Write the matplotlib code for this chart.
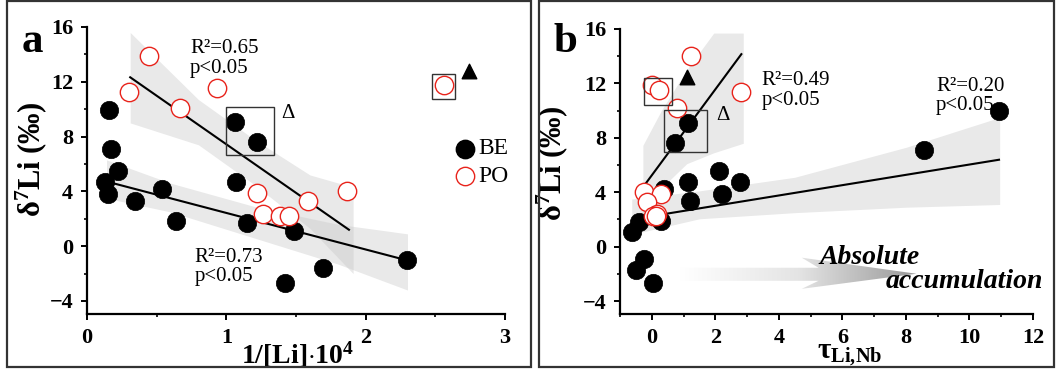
import numpy as np
import matplotlib
matplotlib.use("Agg")
import matplotlib.pyplot as plt
from matplotlib.patches import Rectangle, Polygon
from matplotlib.colors import LinearSegmentedColormap
from matplotlib.ticker import MultipleLocator

plt.rcParams['font.family'] = ['Liberation Serif', 'DejaVu Serif']
plt.rcParams['mathtext.fontset'] = 'custom'
plt.rcParams['mathtext.rm'] = 'Liberation Serif'
plt.rcParams['mathtext.it'] = 'Liberation Serif:italic'
plt.rcParams['mathtext.bf'] = 'Liberation Serif:bold'

# ---------------- Panel a data: 1/[Li]*10^4 vs d7Li ----------------
a_be_x = [0.155, 0.174, 0.222, 0.131, 0.148, 0.344, 0.535, 0.637, 1.064, 1.217,
          1.067, 1.150, 1.489, 1.420, 1.694, 2.296]
a_be_y = [9.92, 7.08, 5.50, 4.69, 3.79, 3.30, 4.18, 1.81, 9.09, 7.57,
          4.69, 1.66, 1.10, -2.71, -1.61, -1.03]
a_po_x = [0.446, 0.301, 0.931, 0.671, 1.217, 1.260, 1.384, 1.451, 1.587, 1.866, 2.561]
a_po_y = [13.90, 11.26, 11.53, 10.11, 3.88, 2.37, 2.22, 2.22, 3.27, 4.01, 11.80]
a_tri = (2.745, 12.8)

# fitted lines (end points) and confidence bands
a_po_fit_x = [0.31, 1.88]
a_po_fit_y = [12.33, 1.20]
a_po_band_x = [0.31, 0.8, 1.2, 1.6, 1.91]
a_po_band_hi = [15.6, 10.7, 7.8, 5.2, 4.3]
a_po_band_lo = [9.0, 7.4, 4.5, 1.3, -2.0]

a_be_fit_x = [0.107, 2.296]
a_be_fit_y = [4.81, -1.03]
a_be_band_x = [0.14, 0.6, 1.2, 1.8, 2.30]
a_be_band_hi = [6.3, 4.6, 2.9, 1.6, 0.9]
a_be_band_lo = [3.5, 2.5, 0.6, -1.3, -3.2]

# ---------------- Panel b data: tau_Li,Nb vs d7Li ----------------
b_be_x = [10.93, 8.57, 1.15, 0.74, 2.13, 2.78, 1.15, 2.21, 1.21, 0.38,
          0.28, -0.39, -0.62, -0.25, -0.51, 0.05]
b_be_y = [9.96, 7.13, 9.12, 7.64, 5.55, 4.73, 4.73, 3.87, 3.33, 4.24,
          1.85, 1.78, 1.11, -0.94, -1.68, -2.66]
b_po_x = [1.23, 2.81, 0.01, 0.24, 0.80, -0.24, 0.28, -0.14, 0.18, 0.05, 0.12]
b_po_y = [13.98, 11.37, 11.88, 11.51, 10.16, 4.01, 3.88, 3.27, 2.37, 2.22, 2.22]
b_tri = (1.10, 12.5)

b_po_fit_x = [-0.28, 2.82]
b_po_fit_y = [4.36, 14.15]
b_po_band_x = [-0.28, 0.3, 1.1, 1.95, 2.88]
b_po_band_hi = [7.45, 10.0, 13.0, 15.7, 15.7]
b_po_band_lo = [1.1, 4.3, 6.1, 6.9, 7.6]

b_be_fit_x = [-0.28, 10.93]
b_be_fit_y = [2.14, 6.39]
b_be_band_x = [-0.63, 1.5, 4.5, 8.0, 10.95]
b_be_band_hi = [3.5, 4.1, 5.1, 7.3, 9.5]
b_be_band_lo = [0.9, 2.05, 2.5, 2.9, 3.1]

# arrow outline (data coords of panel b)
arrow_x = [0.88, 5.25, 4.72, 8.33, 4.72, 5.25, 0.88]
arrow_y = [-1.55, -1.55, -0.81, -1.99, -3.1, -2.51, -2.51]

fig = plt.figure(figsize=(10.57, 3.76), dpi=100)
W, H = 1057, 376

# panel frames
for x0, x1 in [(7, 531), (539, 1054)]:
    fig.patches.append(Rectangle((x0 / W, 1 - 367 / H), (x1 - x0) / W, 366 / H,
                                 transform=fig.transFigure, fill=False,
                                 edgecolor='#333333', linewidth=1.6))

ax_a = fig.add_axes([87 / W, 1 - 314 / H, (505 - 87) / W, (314 - 27) / H])
ax_b = fig.add_axes([620 / W, 1 - 314 / H, (1033 - 620) / W, (314 - 29) / H])

band_kw = dict(color='#c8c8c8', alpha=0.4, linewidth=0, zorder=1)
be_kw = dict(s=175, c='black', edgecolors='black', linewidths=0.5, zorder=3)
po_kw = dict(s=175, c='white', edgecolors='#e8231b', linewidths=1.0, zorder=4)


def style_axis(ax, xlim, xmaj, xmin):
    ax.set_xlim(*xlim)
    ax.set_ylim(-4.95, 16)
    for s in ['top', 'right']:
        ax.spines[s].set_visible(False)
    for s in ['left', 'bottom']:
        ax.spines[s].set_linewidth(1.6)
    ax.xaxis.set_major_locator(MultipleLocator(xmaj))
    ax.xaxis.set_minor_locator(MultipleLocator(xmin))
    ax.yaxis.set_major_locator(MultipleLocator(4))
    ax.yaxis.set_minor_locator(MultipleLocator(2))
    ax.tick_params(which='major', direction='out', length=4, width=1.4,
                   labelsize=16, pad=6)
    ax.tick_params(which='minor', direction='out', length=2.5, width=1.2)
    for lab in ax.get_xticklabels() + ax.get_yticklabels():
        lab.set_fontweight('bold')
    ax.patch.set_alpha(0)


# ---- panel a ----
ax = ax_a
ax.fill_between(a_po_band_x, a_po_band_lo, a_po_band_hi, **band_kw)
ax.fill_between(a_be_band_x, a_be_band_lo, a_be_band_hi, **band_kw)
ax.plot(a_po_fit_x, a_po_fit_y, color='black', lw=1.5, zorder=2)
ax.plot(a_be_fit_x, a_be_fit_y, color='black', lw=1.5, zorder=2)
ax.scatter(a_be_x, a_be_y, **be_kw)
ax.scatter(a_po_x, a_po_y, **po_kw)
ax.scatter([a_tri[0]], [a_tri[1]], marker='^', s=110, c='black', zorder=4)
ax.add_patch(Rectangle((0.998, 6.64), 0.346, 3.55, fill=False,
                       edgecolor='#333333', lw=1.0, zorder=5))
ax.add_patch(Rectangle((2.475, 10.77), 0.167, 1.81, fill=False,
                       edgecolor='#333333', lw=1.0, zorder=5))
ax.text(1.44, 9.7, 'Δ', fontsize=15, ha='center', va='center')
ax.text(0.74, 15.1, 'R²=0.65\np<0.05', fontsize=15, va='top', ha='left',
        linespacing=1.05)
ax.text(0.77, -0.1, 'R²=0.73\np<0.05', fontsize=15, va='top', ha='left',
        linespacing=1.05)
# legend
ax.scatter([2.716], [7.13], s=175, c='black', zorder=4, clip_on=False)
ax.scatter([2.716], [5.1], s=175, c='white', edgecolors='#e8231b',
           linewidths=1.0, zorder=4, clip_on=False)
ax.text(2.81, 7.13, 'BE', fontsize=17, va='center', ha='left')
ax.text(2.81, 5.1, 'PO', fontsize=17, va='center', ha='left')
style_axis(ax, (0, 3), 1, 0.5)
ax.set_xlabel(r'$\mathbf{1/[Li]{\cdot}10^{4}}$', fontsize=20)
ax.xaxis.set_label_coords(0.505, -0.09, transform=ax.transAxes)
ax.xaxis.label.set_va('top')
ax.set_ylabel(r'$\mathbf{\delta^{7}Li\ (‰)}$', fontsize=22)
ax.yaxis.set_label_coords(-0.09, 0.537, transform=ax.transAxes)

# ---- panel b ----
ax = ax_b
ax.fill_between(b_po_band_x, b_po_band_lo, b_po_band_hi, **band_kw)
ax.fill_between(b_be_band_x, b_be_band_lo, b_be_band_hi, **band_kw)
ax.plot(b_po_fit_x, b_po_fit_y, color='black', lw=1.5, zorder=2)
ax.plot(b_be_fit_x, b_be_fit_y, color='black', lw=1.5, zorder=2)
ax.scatter(b_be_x, b_be_y, clip_on=False, **be_kw)
ax.scatter(b_po_x, b_po_y, **po_kw)
ax.scatter([b_tri[0]], [b_tri[1]], marker='^', s=110, c='black', zorder=4)
ax.add_patch(Rectangle((-0.26, 10.38), 0.89, 2.0, fill=False,
                       edgecolor='#333333', lw=1.0, zorder=5))
ax.add_patch(Rectangle((0.39, 6.95), 1.34, 3.08, fill=False,
                       edgecolor='#333333', lw=1.0, zorder=5))
ax.text(2.23, 9.66, 'Δ', fontsize=15, ha='center', va='center')
ax.text(3.45, 12.9, 'R²=0.49\np<0.05', fontsize=15, va='top', ha='left',
        linespacing=1.05)
ax.text(8.95, 12.5, 'R²=0.20\np<0.05', fontsize=15, va='top', ha='left',
        linespacing=1.05)

# gradient arrow
poly = Polygon(list(zip(arrow_x, arrow_y)), closed=True, facecolor='none',
               edgecolor='none', transform=ax.transData)
ax.add_patch(poly)
cmap = LinearSegmentedColormap.from_list('g', ['#ffffff', '#e4e4e4', '#999999'])
grad = np.linspace(0, 1, 256).reshape(1, -1)
im = ax.imshow(grad, extent=(min(arrow_x), max(arrow_x), min(arrow_y), max(arrow_y)),
               cmap=cmap, aspect='auto', zorder=1, interpolation='bicubic')
im.set_clip_path(poly)
ax.text(6.85, -1.3, 'Absolute', fontsize=20, fontweight='bold',
        fontstyle='italic', ha='center', va='baseline', zorder=6)
ax.text(9.85, -3.05, 'accumulation', fontsize=20, fontweight='bold',
        fontstyle='italic', ha='center', va='baseline', zorder=6,
        clip_on=False)
style_axis(ax, (-1, 12), 2, 1)
ax.set_xlabel(r'$\mathbf{\tau_{Li{,}Nb}}$', fontsize=21)
ax.xaxis.set_label_coords(0.555, -0.10, transform=ax.transAxes)
ax.xaxis.label.set_va('top')
ax.set_ylabel(r'$\mathbf{\delta^{7}Li\ (‰)}$', fontsize=22)
ax.yaxis.set_label_coords(-0.121, 0.53, transform=ax.transAxes)

fig.text(22 / W, 1 - 52 / H, 'a', fontsize=31, fontweight='bold',
         va='baseline', ha='left')
fig.text(553 / W, 1 - 52 / H, 'b', fontsize=31, fontweight='bold',
         va='baseline', ha='left')

fig.savefig('out.png', dpi=100)
